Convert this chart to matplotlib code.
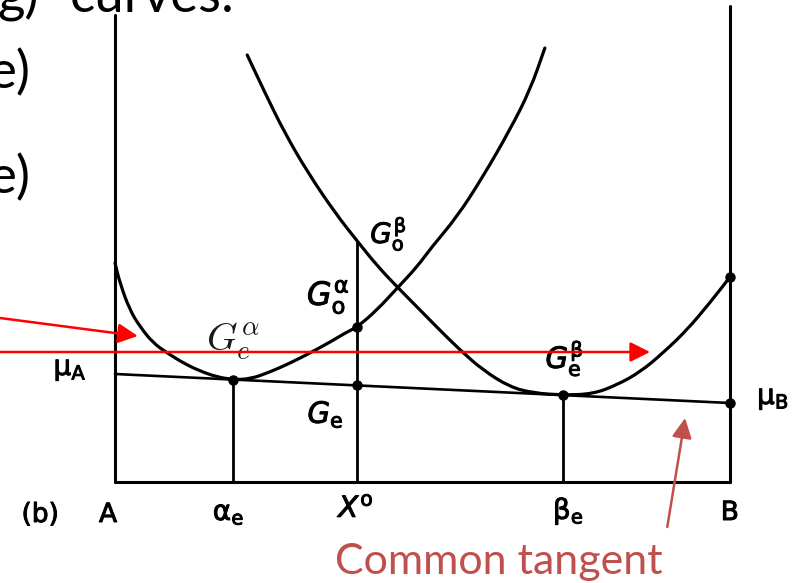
import numpy as np
import matplotlib
matplotlib.use('Agg')
import matplotlib.pyplot as plt
from matplotlib.path import Path
from matplotlib.patches import PathPatch
import matplotlib.patheffects as pe

# composition X_B (0 = pure A, 1 = pure B) and free energy G (arbitrary units)
alpha_x = [0.0, 0.008, 0.024, 0.041, 0.062, 0.085, 0.111, 0.138, 0.166, 0.192,
           0.220, 0.252, 0.285, 0.317, 0.350, 0.377, 0.394, 0.426, 0.459, 0.491,
           0.515, 0.556, 0.598, 0.642, 0.675, 0.699]
alpha_G = [2.19, 1.99, 1.72, 1.55, 1.39, 1.29, 1.19, 1.11, 1.05, 1.024,
           1.03, 1.10, 1.19, 1.29, 1.40, 1.50, 1.55, 1.72, 1.94, 2.15,
           2.35, 2.65, 3.05, 3.52, 3.92, 4.34]

beta_x = [0.215, 0.244, 0.276, 0.314, 0.358, 0.395, 0.428, 0.459, 0.496, 0.528,
          0.561, 0.598, 0.642, 0.680, 0.728, 0.777, 0.816, 0.854, 0.891, 0.930,
          0.967, 1.0]
beta_G = [4.27, 3.89, 3.49, 3.09, 2.69, 2.40, 2.15, 1.95, 1.72, 1.52,
          1.32, 1.12, 0.95, 0.89, 0.869, 0.88, 0.97, 1.10, 1.29, 1.52,
          1.79, 2.05]

mu_A = 1.08
mu_B = 0.79
x_alpha_e = 0.192
x_beta_e = 0.728
x0 = 0.394
G0_alpha = 1.55
G0_beta = 2.40
G_top_A = 4.67
G_top_B = 4.76


def tangent(x):
    return mu_A + (mu_B - mu_A) * x


def smooth_curve(xs, ys):
    # quadratic bezier through the midpoints, sample points as control points
    pts = np.column_stack([xs, ys])
    mids = (pts[:-1] + pts[1:]) / 2
    verts = [pts[0], mids[0]]
    codes = [Path.MOVETO, Path.LINETO]
    for i in range(1, len(pts) - 1):
        verts += [pts[i], mids[i]]
        codes += [Path.CURVE3, Path.CURVE3]
    verts.append(pts[-1])
    codes.append(Path.LINETO)
    return Path(verts, codes)


G_e = tangent(x0)

fig = plt.figure(figsize=(8.02, 5.83), dpi=100)
ax = fig.add_axes([0, 0, 1, 1])
ax.set_xlim(-0.18699, 1.11707)
ax.set_ylim(-1.01, 4.82)
ax.axis('off')

k = dict(color='black', solid_capstyle='round', solid_joinstyle='round')

# frame: A and B axes plus composition axis
ax.plot([0, 0], [0, G_top_A], lw=2.2, **k)
ax.plot([1, 1], [0, G_top_B], lw=2.2, **k)
ax.plot([0, 1], [0, 0], lw=2.2, **k)

# free energy curves
for cx, cy in [(alpha_x, alpha_G), (beta_x, beta_G)]:
    ax.add_patch(PathPatch(smooth_curve(cx, cy), fill=False, lw=2.3,
                           edgecolor='black', capstyle='round', joinstyle='round'))

# common tangent
ax.plot([0, 1], [mu_A, mu_B], lw=1.9, **k)

# drop lines
ax.plot([x_alpha_e, x_alpha_e], [0, tangent(x_alpha_e)], lw=2.0, **k)
ax.plot([x_beta_e, x_beta_e], [0, tangent(x_beta_e)], lw=2.0, **k)
ax.plot([x0, x0], [0, G0_beta], lw=2.0, **k)

dots_x = [x_alpha_e, x0, x0, x_beta_e, 1, 1]
dots_G = [tangent(x_alpha_e), G0_alpha, G_e, tangent(x_beta_e), mu_B, beta_G[-1]]
ax.plot(dots_x, dots_G, 'o', color='black', ms=6.5)

# labels
bold = [pe.withStroke(linewidth=0.7, foreground='black')]
lab = dict(ha='left', va='baseline', color='black', math_fontfamily='dejavusans',
           path_effects=bold)
ax.text(-0.152, -0.40, '(b)', fontsize=19, **lab)
ax.text(-0.026, -0.40, 'A', fontsize=19, **lab)
ax.text(0.159, -0.38, r'$\mathrm{\alpha_e}$', fontsize=20, **lab)
ax.text(0.363, -0.35, r'$X^\mathrm{o}$', fontsize=21, **lab)
ax.text(0.712, -0.37, r'$\mathrm{\beta_e}$', fontsize=20, **lab)
ax.text(0.985, -0.38, 'B', fontsize=19, **lab)
ax.text(-0.100, 1.07, r'$\mathrm{\mu_A}$', fontsize=20, **lab)
ax.text(1.044, 0.78, r'$\mathrm{\mu_B}$', fontsize=20, **lab)
ax.text(0.312, 1.77, r'$G^\mathrm{\alpha}_\mathrm{o}$', fontsize=23, **lab)
ax.text(0.415, 2.39, r'$G^\mathrm{\beta}_\mathrm{o}$', fontsize=20, **lab)
ax.text(0.700, 1.14, r'$G^\mathrm{\beta}_\mathrm{e}$', fontsize=21, **lab)
ax.text(0.313, 0.59, r'$G_\mathrm{e}$', fontsize=21, **lab)
ax.text(0.148, 1.32, r'$G_e^\alpha$', fontsize=28, ha='left', va='baseline',
        color='#1a1a1a', math_fontfamily='cm')

# red pointers
red_head = '-|>,head_length=0.6,head_width=0.3'
ax.annotate('', xy=(0.037, 1.46), xytext=(-0.187, 1.64),
            arrowprops=dict(arrowstyle=red_head, color='red', lw=1.8,
                            mutation_scale=20, shrinkA=0, shrinkB=0))
ax.annotate('', xy=(0.870, 1.30), xytext=(-0.187, 1.30),
            arrowprops=dict(arrowstyle=red_head, color='red', lw=1.8,
                            mutation_scale=20, shrinkA=0, shrinkB=0))
ax.annotate('', xy=(0.927, 0.64), xytext=(0.898, -0.45),
            arrowprops=dict(arrowstyle=red_head, color='#C0504D', lw=1.8,
                            mutation_scale=20, shrinkA=0, shrinkB=0))

slide = dict(family=['Lato', 'DejaVu Sans'], va='baseline')
ax.text(0.358, -0.92, 'Common tangent', fontsize=31, color='#C0504D',
        ha='left', **slide)

# slide text cut off at the left edge
ax.text(-0.124, 4.70, 'g)', fontsize=38, color='black', ha='right', **slide)
ax.text(-0.073, 4.70, 'curves:', fontsize=38, color='black', ha='left', **slide)
ax.text(-0.137, 3.94, 'e)', fontsize=38, color='black', ha='right', **slide)
ax.text(-0.137, 2.89, 'e)', fontsize=38, color='black', ha='right', **slide)

fig.savefig('out.png', dpi=100)
